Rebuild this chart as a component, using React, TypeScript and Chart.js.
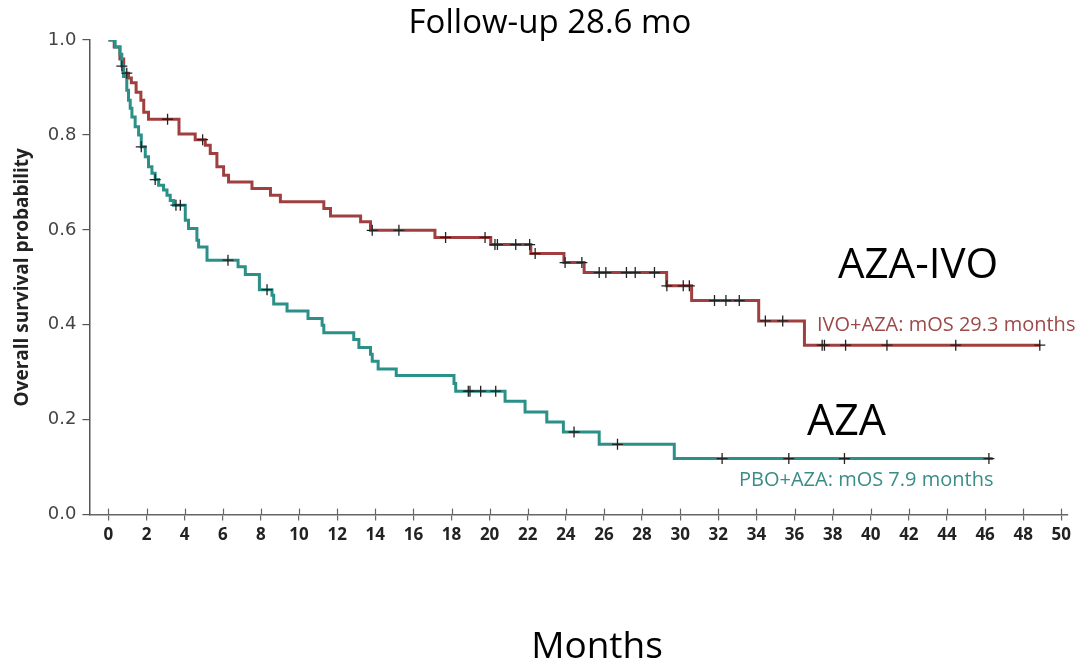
import React, { useEffect, useRef } from "react";
import { Chart, registerables } from "chart.js";

Chart.register(...registerables);

// IVO+AZA Kaplan-Meier step curve
const ivoTimes = [0, 0.3, 0.6, 0.8, 1.05, 1.2, 1.45, 1.7, 1.85, 2.1, 3.7, 4.55, 5.08, 5.34, 5.69, 6.04, 6.3, 7.53, 8.5, 9.02, 11.3, 11.65, 13.23, 13.75, 17.13, 20.06, 22.16, 23.9, 24.96, 29.29, 30.6, 34.12, 36.52, 48.9];
const ivoSurv = [1.0, 0.985, 0.96, 0.93, 0.92, 0.91, 0.89, 0.873, 0.848, 0.833, 0.802, 0.79, 0.778, 0.761, 0.733, 0.715, 0.701, 0.687, 0.673, 0.659, 0.645, 0.629, 0.617, 0.599, 0.584, 0.569, 0.55, 0.531, 0.51, 0.482, 0.451, 0.408, 0.357, 0.357];
const ivoCensor = [0.96, 3.1, 4.94, 13.84, 15.24, 17.69, 19.76, 20.28, 20.41, 21.37, 22.1, 22.39, 23.96, 24.84, 25.75, 26.1, 27.18, 27.64, 28.65, 29.3, 30.16, 30.48, 31.8, 32.4, 33.1, 34.47, 35.38, 37.45, 37.57, 38.68, 40.85, 44.46, 48.87];

// PBO+AZA Kaplan-Meier step curve
const pboTimes = [0, 0.35, 0.6, 0.7, 0.79, 0.96, 1.05, 1.14, 1.23, 1.4, 1.58, 1.72, 1.93, 2.1, 2.28, 2.45, 2.63, 2.89, 3.07, 3.24, 3.42, 4.03, 4.2, 4.64, 4.73, 5.17, 6.8, 7.18, 7.92, 8.58, 8.67, 9.37, 10.47, 11.21, 11.3, 12.87, 13.14, 13.75, 13.84, 14.15, 15.1, 18.13, 18.22, 20.81, 21.86, 23.0, 23.87, 25.75, 29.69, 46.4];
const pboSurv = [1.0, 0.985, 0.97, 0.945, 0.923, 0.894, 0.873, 0.856, 0.838, 0.817, 0.8, 0.775, 0.754, 0.733, 0.719, 0.706, 0.694, 0.684, 0.673, 0.662, 0.652, 0.62, 0.603, 0.578, 0.564, 0.536, 0.522, 0.506, 0.474, 0.462, 0.444, 0.429, 0.413, 0.399, 0.383, 0.369, 0.352, 0.338, 0.323, 0.307, 0.293, 0.276, 0.26, 0.239, 0.216, 0.195, 0.174, 0.148, 0.118, 0.118];
const pboCensor = [0.7, 1.72, 2.45, 3.54, 3.77, 6.27, 8.32, 18.88, 18.97, 19.53, 20.32, 24.43, 26.71, 32.2, 35.7, 38.62, 46.2];

const xTicks = [0, 2, 4, 6, 8, 10, 12, 14, 16, 18, 20, 22, 24, 26, 28, 30, 32, 34, 36, 38, 40, 42, 44, 46, 48, 50];
const yTicks = [0, 0.2, 0.4, 0.6, 0.8, 1.0];

const titleText = "Follow-up 28.6 mo";
const xTitleText = "Months";
const yTitleText = "Overall survival probability";
const ivoName = "AZA-IVO";
const pboName = "AZA";
const ivoLabel = "IVO+AZA: mOS 29.3 months";
const pboLabel = "PBO+AZA: mOS 7.9 months";

const RED = "#a03f3f";
const TEAL = "#2b9088";

function survAt(times: number[], surv: number[], t: number): number {
  let v = surv[0];
  for (let i = 0; i < times.length; i++) {
    if (times[i] <= t) v = surv[i];
  }
  return v;
}

const textPlugin = {
  id: "textPlugin",
  afterDraw(chart: any) {
    const ctx = chart.ctx as CanvasRenderingContext2D;
    const xs = chart.scales.x;
    const bottom = chart.chartArea.bottom;
    ctx.save();
    // upward half of x-axis tick marks (ticks cross the axis)
    ctx.strokeStyle = "#666";
    ctx.lineWidth = 1.2;
    xTicks.forEach((v) => {
      const px = Math.round(xs.getPixelForValue(v)) + 0.5;
      ctx.beginPath();
      ctx.moveTo(px, bottom);
      ctx.lineTo(px, bottom - 6);
      ctx.stroke();
    });

    ctx.textBaseline = "alphabetic";
    ctx.fillStyle = "#000";
    ctx.textAlign = "center";
    ctx.font = "33px 'Open Sans'";
    ctx.fillText(titleText, 550, 33);
    ctx.font = "37px 'Open Sans'";
    ctx.fillText(xTitleText, 597, 658);

    ctx.textAlign = "left";
    ctx.font = "42px 'Open Sans'";
    ctx.fillText(ivoName, 838, 278);
    ctx.font = "43px 'Open Sans'";
    ctx.fillText(pboName, 807, 435);

    ctx.font = "20px 'Open Sans'";
    ctx.fillStyle = "#9c4a4a";
    ctx.fillText(ivoLabel, 817, 331);
    ctx.fillStyle = "#3a8d87";
    ctx.fillText(pboLabel, 739, 486);
    ctx.restore();
  },
};

export default function App() {
  const canvasRef = useRef<HTMLCanvasElement | null>(null);

  useEffect(() => {
    document.body.style.margin = "0";
    const canvas = canvasRef.current;
    if (!canvas) return;

    const ivoLine = ivoTimes.map((t, i) => ({ x: t, y: ivoSurv[i] }));
    const pboLine = pboTimes.map((t, i) => ({ x: t, y: pboSurv[i] }));
    const ivoMarks = ivoCensor.map((t) => ({ x: t, y: survAt(ivoTimes, ivoSurv, t) }));
    const pboMarks = pboCensor.map((t) => ({ x: t, y: survAt(pboTimes, pboSurv, t) }));

    const chart = new Chart(canvas, {
      type: "line",
      data: {
        datasets: [
          {
            label: "IVO censored",
            data: ivoMarks,
            showLine: false,
            pointStyle: "cross",
            pointRadius: 5.5,
            pointBorderColor: "#222",
            pointBorderWidth: 1.3,
            order: 0,
          },
          {
            label: "PBO censored",
            data: pboMarks,
            showLine: false,
            pointStyle: "cross",
            pointRadius: 5.5,
            pointBorderColor: "#222",
            pointBorderWidth: 1.3,
            order: 0,
          },
          {
            label: "PBO+AZA",
            data: pboLine,
            stepped: "before",
            borderColor: TEAL,
            borderWidth: 3,
            pointRadius: 0,
            fill: false,
            order: 1,
          },
          {
            label: "IVO+AZA",
            data: ivoLine,
            stepped: "before",
            borderColor: RED,
            borderWidth: 3,
            pointRadius: 0,
            fill: false,
            order: 2,
          },
        ],
      },
      options: {
        responsive: false,
        animation: false,
        events: [],
        layout: { padding: { left: 11, top: 40, right: 9, bottom: 113 } },
        plugins: {
          legend: { display: false },
          tooltip: { enabled: false },
          title: { display: false },
        },
        scales: {
          x: {
            type: "linear",
            min: -1,
            max: 50.35,
            afterBuildTicks: (axis: any) => {
              axis.ticks = xTicks.map((v) => ({ value: v }));
            },
            grid: {
              display: true,
              drawOnChartArea: false,
              drawTicks: true,
              tickLength: 6,
              color: "#666",
              lineWidth: 1.2,
            },
            border: { display: true, color: "#666", width: 1.5 },
            ticks: {
              autoSkip: false,
              maxRotation: 0,
              padding: 4,
              color: "#222",
              font: { family: "'Open Sans'", size: 17, weight: "bold" },
            },
          },
          y: {
            type: "linear",
            min: 0,
            max: 1,
            afterBuildTicks: (axis: any) => {
              axis.ticks = yTicks.map((v) => ({ value: v }));
            },
            grid: {
              display: true,
              drawOnChartArea: false,
              drawTicks: true,
              tickLength: 7,
              color: "#555",
              lineWidth: 1.2,
            },
            border: { display: true, color: "#555", width: 1.5 },
            ticks: {
              padding: 6,
              color: "#444",
              font: { family: "'DejaVu Sans'", size: 18 },
              callback: (v: any) => Number(v).toFixed(1),
            },
            title: {
              display: true,
              text: yTitleText,
              color: "#222",
              font: { family: "'Open Sans'", size: 19, weight: "bold" },
              padding: { top: 0, bottom: 8 },
            },
          },
        },
      },
      plugins: [textPlugin],
    });

    return () => {
      chart.destroy();
    };
  }, []);

  return (
    <div style={{ width: 1077, height: 662, background: "#fff" }}>
      <canvas ref={canvasRef} width={1077} height={662} />
    </div>
  );
}
